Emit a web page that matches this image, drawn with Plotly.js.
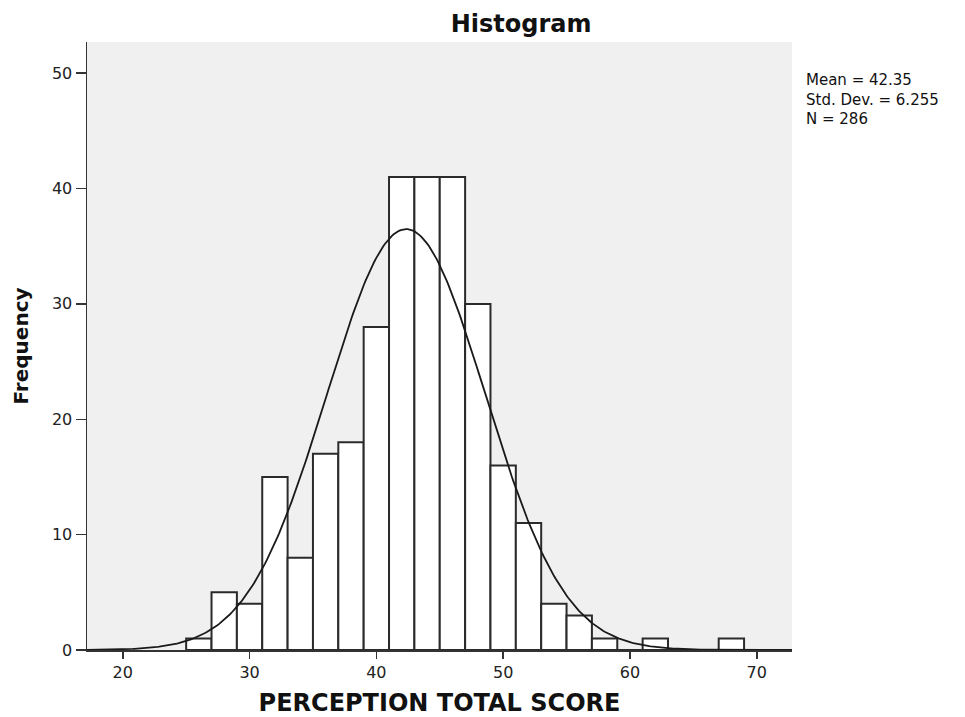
<!DOCTYPE html>
<html>
<head>
<meta charset="utf-8">
<script src="https://cdn.plot.ly/plotly-3.0.1.min.js"></script>
<style>html,body{margin:0;padding:0;background:#fff;}#chart{width:965px;height:717px;}</style>
</head>
<body>
<div id="chart"></div>
<script>
// Histogram bins (width 2), left edges and counts
const binStarts = [25,27,29,31,33,35,37,39,41,43,45,47,49,51,53,55,57,59,61,63,65,67];
const counts    = [1, 5, 4, 15,8, 17,18,28,41,41,41,30,16,11,4, 3, 1, 0, 1, 0, 0, 1];
const binWidth = 2;
// Summary statistics shown on the chart
const statMean = 42.35;
const statSD = 6.255;
const statN = 286;
const statLines = ['Mean = ' + statMean, 'Std. Dev. = ' + statSD, 'N = ' + statN];
const xTicks = [20,30,40,50,60,70];
const yTicks = [0,10,20,30,40,50];

const xRange = [17.18, 72.78];
const yRange = [0, 52.7];

const centers = binStarts.map(s => s + binWidth/2);

// Fitted normal curve from the displayed mean / SD / N
const curveX = [], curveY = [];
for (let i = 0; i <= 400; i++) {
  const x = xRange[0] + (xRange[1]-xRange[0]) * i/400;
  const z = (x - statMean)/statSD;
  curveX.push(x);
  curveY.push(statN*binWidth/(statSD*Math.sqrt(2*Math.PI))*Math.exp(-0.5*z*z));
}

const font = "DejaVu Sans, Verdana, sans-serif";

const data = [
  {type:'bar', x:centers, y:counts, width:binWidth,
   marker:{color:'#ffffff', line:{color:'#2b2b2b', width:2}}, hoverinfo:'x+y'},
  {type:'scatter', mode:'lines', x:curveX, y:curveY,
   line:{color:'#1a1a1a', width:1.8}, hoverinfo:'skip'}
];

const layout = {
  width:965, height:717,
  margin:{l:87, r:173, t:42, b:67},
  paper_bgcolor:'#ffffff', plot_bgcolor:'#f0f0f0',
  showlegend:false, bargap:0,
  title:{text:'<b>Histogram</b>', x:0.54, xanchor:'center', y:0.967, yanchor:'middle',
         font:{family:font, size:24, color:'#111'}},
  xaxis:{range:xRange, tickvals:xTicks, ticks:'outside', ticklen:7, tickwidth:1.5, tickcolor:'#333',
         showline:true, linecolor:'#333', linewidth:1.5, showgrid:false, zeroline:false,
         tickfont:{family:font, size:16, color:'#222'},
         title:{text:'<b>PERCEPTION TOTAL SCORE</b>', standoff:16, font:{family:font, size:24, color:'#111'}}},
  yaxis:{range:yRange, tickvals:yTicks, ticks:'outside', ticklen:10, tickwidth:1.5, tickcolor:'#333',
         showline:true, linecolor:'#333', linewidth:1.5, showgrid:false, zeroline:false,
         tickfont:{family:font, size:16, color:'#222'},
         title:{text:'<b>Frequency</b>', standoff:18, font:{family:font, size:20, color:'#111'}}},
  annotations:[{
    xref:'paper', yref:'paper', x:1.017, y:0.955, xanchor:'left', yanchor:'top', align:'left',
    showarrow:false, text:statLines.join('<br>'), font:{family:font, size:15, color:'#111'}
  }]
};

Plotly.newPlot('chart', data, layout, {displayModeBar:false, staticPlot:true});
</script>
</body>
</html>
